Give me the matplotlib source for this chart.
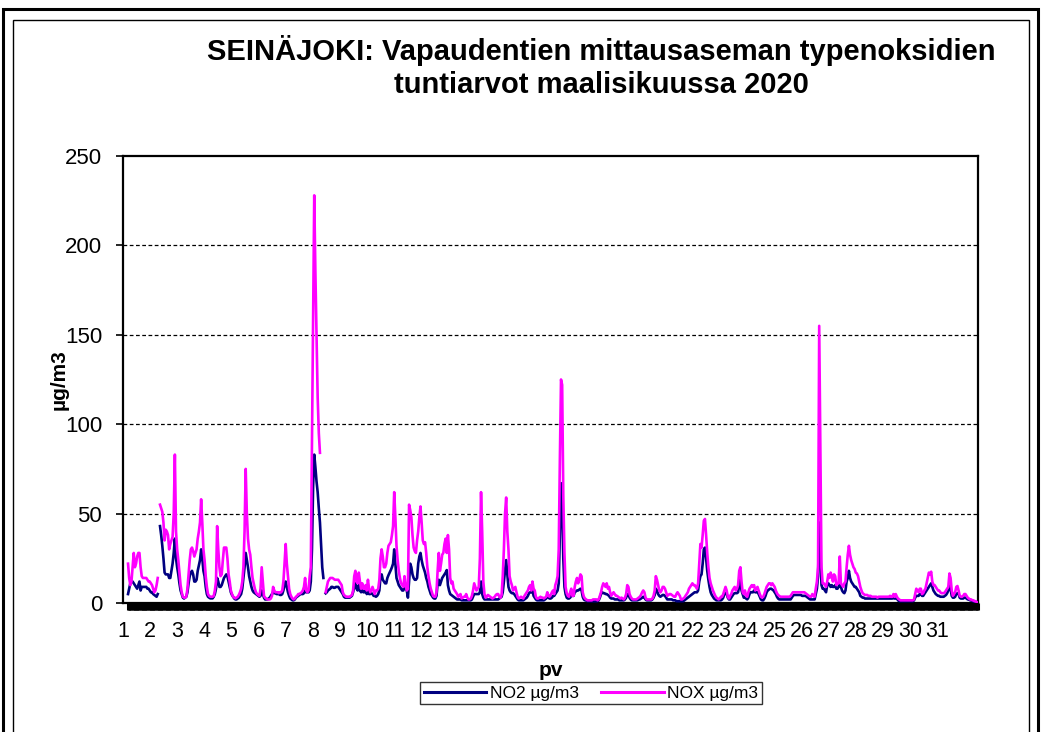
import numpy as np
import matplotlib
matplotlib.use("Agg")
import matplotlib.pyplot as plt
from matplotlib.patches import Rectangle
from matplotlib.lines import Line2D

nan = np.nan

# Hourly values for March 2020, one row of 24 hours per day
NO2_BY_DAY = [
    [5, 8, 11, 12, 12, 11, 10, 9, 8, 10, 12, 7, 9, 9, 9, 9, 9, 8, 8, 7, 6, 6, 5, 4.5],
    [4, 3.5, 5, nan, 43, 38, 32, 25, 17, 16, 16, 16, 14, 14, 18, 22, 28, 36, 25, 20, 16, 11, 7, 5],
    [3, 2.5, 3, 3.5, 6, 11, 15, 17, 18, 16, 12, 12, 13, 18, 21, 24, 30, 25, 18, 15, 9, 5, 3.5, 3],
    [2.6, 2.6, 2.6, 3.5, 5, 8, 14, 12, 9, 9, 10, 12, 14, 15, 16, 15, 12, 9, 6, 4.5, 3.5, 2.5, 2, 2],
    [2.5, 3, 4, 5, 8, 14, 20, 28, 24, 20, 15, 12, 9, 7, 6, 5.5, 5, 4.5, 4, 3.5, 4, 7, 5, 3],
    [2, 2, 2, 2.5, 3, 4, 5, 6, 5.5, 5.5, 5, 5, 5, 4.5, 4.5, 5, 7, 10, 12, 9, 6, 4, 2.5, 2],
    [1.5, 1.5, 2, 3, 3.5, 4, 4.5, 5, 5, 5, 5.5, 7, 6, 6, 6, 7, 12, 30, 65, 83, 76, 68, 62, 53],
    [45, 33, 20, 14, nan, 5.4, 6, 7, 7.5, 8, 9, 9, 8.5, 8.5, 9, 9, 9, 8, 7, 6, 5, 3.5, 3, 3],
    [3, 3, 3, 3.5, 4, 6, 9, 11, 8, 7, 10, 7, 6, 9, 6, 6, 7, 5, 8, 5, 5, 5.5, 5, 4],
    [4, 3.5, 4, 5, 7, 15, 16, 13, 12, 11, 11, 14, 15.6, 17, 18.4, 20, 22, 30, 22, 14, 12, 10, 9, 8],
    [7, 7, 9, 8, 7, 3, 12, 22, 20, 16, 14, 13, 13, 14, 22, 26, 28, 24, 21, 19, 17, 14, 12, 9],
    [7, 5, 4, 3, 2.5, 2.5, 4, 11, 13, 10, 12, 14, 15, 16, 17, 18.4, 10, 7, 5, 4.5, 4, 3.5, 3, 2.5],
    [2, 2, 2, 2, 1.5, 1.5, 1.5, 1.5, 1.5, 1.5, 1.5, 1.5, 1.5, 2, 3.5, 5, 5, 5, 5, 5, 6, 12, 5, 3],
    [2, 2, 2, 2, 2, 2, 2, 2, 2, 2, 2, 2, 2, 2.5, 3, 3.5, 6, 12, 18, 24, 16, 9, 7, 6],
    [5.5, 5.5, 5, 4, 3, 2, 1.5, 1.5, 1.5, 1.5, 1.5, 2, 2.5, 3, 4, 5.5, 6, 6, 7, 4, 3, 2, 1.5, 1.5],
    [1.5, 1.5, 1.5, 1.5, 1.5, 2, 2.5, 3.5, 3, 2.5, 2.5, 3, 4, 4, 5, 6, 7, 11, 40, 67, 55, 25, 9, 5],
    [3, 2.5, 2.5, 3, 4, 4, 4, 6, 6.5, 7, 7, 7.5, 8, 7, 3.5, 2, 1.5, 1.5, 1, 1, 1, 1, 1, 1],
    [1, 1, 1, 1, 1.5, 3, 5, 6, 5.5, 5.5, 5, 5, 4.5, 4, 3, 2.5, 2.5, 2.5, 2, 2, 2, 2, 1.5, 1.5],
    [1.5, 1.5, 1.5, 2, 3, 5, 5, 3, 2, 1.5, 1.5, 1.5, 1.5, 1.5, 1.5, 2, 2, 2.5, 3, 3.5, 3, 2, 1.5, 1.5],
    [1.5, 1.5, 1.5, 2, 3, 4.5, 8, 7, 5, 4, 3.5, 4, 4.5, 4.5, 4, 3, 2, 2, 2, 2, 2, 1.5, 1.5, 1.5],
    [1, 1, 1, 1, 1, 1, 1, 1.5, 2, 2.5, 3, 3.5, 4, 4.5, 5, 5.5, 6, 6, 6, 7, 12, 15, 16, 22],
    [30, 31, 25, 18, 13, 9, 6, 4.5, 3.5, 2.5, 2, 1.5, 1.5, 1.5, 1.5, 1.5, 2, 3, 5, 5.5, 5, 3, 2, 2],
    [3, 4, 5, 5.5, 5.5, 5.5, 6, 10, 13, 7, 5, 3, 3, 2.5, 2, 3, 5, 6, 6, 6, 7, 6, 6, 6],
    [5, 3.5, 2, 1.5, 1.5, 2.5, 4, 6, 7, 7.5, 8, 8, 7.5, 7, 6, 5, 3.5, 2.5, 2, 2, 2, 2, 2, 2],
    [2, 2, 2, 2, 2, 3, 4, 4.5, 4.5, 4.5, 4.5, 4.5, 4.5, 4.5, 4, 4, 4, 4, 3.5, 3, 2.5, 2, 2, 2],
    [2, 2, 5, 8, 15, 45, 30, 10, 8, 8, 7, 6, 10, 11, 10, 9, 10, 9, 9, 10, 8, 8, 9, 11],
    [9, 7, 6, 5.5, 7, 12, 14, 18, 14, 12, 11, 10, 9, 9, 8, 7, 6, 4, 3.5, 3, 3, 2.5, 2.5, 2.5],
    [2.5, 2.5, 2.5, 2.5, 2.5, 2.5, 2.5, 2.5, 2.5, 2.5, 2.5, 2.5, 2.5, 2.5, 2.5, 2.5, 2.5, 2.5, 2.5, 2.5, 2.5, 2.5, 3, 2.5],
    [2.5, 2.5, 1.5, 1, 1, 1, 1, 1, 1, 1, 1, 1, 1, 1, 1, 1, 1.5, 3, 4, 4, 4, 5, 5, 4],
    [4, 5, 6, 7, 8, 9, 10, 11, 9, 7, 6, 5, 4.5, 4, 4, 3.5, 3.5, 3.5, 3.5, 4, 4.5, 5.5, 7, 10],
    [8, 4, 3, 3, 3.5, 5, 5.5, 5, 3, 2.5, 2.5, 2.5, 3, 3, 2.5, 2, 2, 1.5, 1.5, 1, 1, 0.5, 0.5, 0.5],
]

NOX_BY_DAY = [
    [22, 14, 10, 12, 20, 28, 20, 22, 26, 28, 28, 20, 15, 14, 14, 14, 14, 13, 12, 12, 11, 10, 8, 6],
    [7, 10, 14, nan, 55, 53, 51, 45, 35, 41, 40, 38, 30, 33, 35, 37, 50, 83, 40, 30, 24, 17, 10, 6],
    [3.5, 3, 3, 3.5, 8, 16, 24, 30, 31, 29, 26, 28, 30, 36, 40, 45, 58, 45, 30, 24, 15, 9, 5, 4],
    [3.5, 3.5, 3.5, 4, 7, 12, 43, 30, 20, 15, 16, 24, 31, 31, 31, 25, 16, 12, 7, 5, 3.5, 3, 2.6, 3],
    [3.5, 4.5, 6, 8, 12, 20, 40, 75, 50, 36, 30, 27, 20, 14, 11, 8, 6, 5, 4.5, 4, 8, 20, 12, 4],
    [3, 2.5, 2, 2, 2, 2.5, 4, 9, 7, 6, 6, 6, 5.5, 6, 6, 7, 12, 22, 33, 22, 15, 8, 5, 3.5],
    [2.5, 2, 2.5, 3.5, 4, 5, 5, 5.5, 6, 7, 9, 14, 7, 6, 7, 15, 20, 90, 160, 228, 185, 150, 115, 95],
    [84, nan, nan, nan, nan, 6, 9, 12, 13, 14, 14, 14, 13.5, 13, 13, 13, 13, 12, 11, 10, 6, 4.5, 4, 3.5],
    [3.5, 3.5, 3.5, 4, 4.5, 7, 15, 18, 12, 11, 17, 12, 8, 11, 8, 8, 10, 7, 13, 8, 6, 7, 9, 7],
    [5, 7, 7, 8, 13, 25, 30, 26, 20, 20, 22, 28, 32, 33, 34, 38, 43, 62, 48, 32, 24, 18, 14, 11],
    [10, 9, 15, 10, 7, 8, 55, 52, 48, 38, 31, 29, 28, 35, 40, 48, 54, 45, 35, 33, 34, 28, 20, 15],
    [11, 8, 6, 4, 3.5, 3.5, 6, 18, 28, 18, 22, 27, 28, 33, 36, 28, 38, 30, 14, 11, 12, 8, 7, 6],
    [5, 3.5, 4, 5, 2.5, 3, 3.5, 3.5, 5, 3, 2, 2, 2.5, 4, 7, 11, 9, 7, 8, 9, 25, 62, 40, 12],
    [5, 3, 3.5, 4.5, 4, 3.5, 3, 2.5, 3, 3.5, 4.5, 5, 5, 3.5, 3, 4.5, 15, 30, 50, 59, 40, 30, 15, 12],
    [10, 7, 8, 9, 6, 3.5, 2.5, 3, 3.5, 3, 2.5, 4, 5, 6, 7, 9, 10, 7, 12, 8, 7, 3.5, 2.5, 2.5],
    [3, 3.5, 3, 3, 2.5, 3, 3.5, 6, 4, 3.5, 4.5, 6, 7, 5, 10, 12, 15, 30, 80, 125, 122, 60, 28, 9],
    [5.5, 4, 3.5, 6, 8, 4, 4, 9, 12, 14, 11, 13, 16, 15, 6, 3.5, 2.5, 2, 1.5, 1.5, 1.5, 1.5, 1.5, 2],
    [2, 2, 2, 1.5, 2, 4, 6, 9, 11, 10, 9, 11, 8, 9, 6, 4, 5, 6, 5, 4, 4, 3.5, 3, 2.5],
    [3, 2.5, 2, 3, 5, 10, 9, 5, 3.5, 2.5, 2, 2, 2, 2, 2.5, 3, 3.5, 4.5, 6, 7, 6, 3, 2, 2],
    [2, 2, 2, 2.5, 4, 7, 15, 13, 10, 7, 6, 7, 9, 9, 8, 6, 4, 4.5, 5, 5, 4.5, 4, 3.5, 3.5],
    [5, 6, 5, 4, 2, 2, 2.5, 3, 4, 5, 6, 8, 9, 10, 11, 10, 10, 9, 8, 11, 22, 33, 31, 38],
    [46, 47, 38, 28, 20, 14, 11, 9, 7, 5.5, 4, 3, 2.5, 2, 2.5, 3.5, 3.5, 5, 7, 9, 7, 3.5, 2.5, 4],
    [5, 7, 8, 9, 7, 8, 10, 18, 20, 12, 6, 5, 7, 4, 3.5, 6, 8, 9, 10, 9, 10, 7, 8, 9],
    [7, 5, 3.5, 3, 3.5, 5, 7, 9, 10, 11, 11, 10, 11, 10, 9, 7, 5.5, 4.5, 4, 3.5, 3.5, 3.5, 3.5, 3.5],
    [3.5, 3.5, 3.5, 3.5, 4, 5, 6, 6, 6, 6, 6, 6, 6, 6, 6, 6, 6, 5.5, 5, 4.5, 4, 3.5, 3.5, 5],
    [4, 3.5, 8, 12, 20, 155, 90, 20, 11, 11, 10, 9, 12, 16, 14, 17, 15, 12, 16, 15, 10, 11, 11, 26],
    [11, 10, 9, 11, 12, 20, 27, 32, 27, 24, 22, 20, 19, 17, 16.5, 15, 12, 9, 7, 5.5, 5, 4.5, 4.5, 4.5],
    [4, 4, 4, 3.5, 3.5, 3.5, 3.5, 3.5, 3, 3.5, 3.5, 3.5, 3.5, 3.5, 3.5, 3.5, 3.5, 3.5, 3.5, 4, 3.5, 3.5, 5, 3.5],
    [5, 3.5, 2.5, 2, 1.5, 1.5, 1.5, 1.5, 1.5, 1.5, 1.5, 1.5, 1.5, 1.5, 1.5, 1.5, 2, 5, 8, 7, 6, 8, 8, 5],
    [5.5, 7, 8, 11, 14, 17, 16, 17.5, 12, 10, 10, 9, 8, 7, 7, 6, 5.5, 5.5, 5.5, 6, 7, 8, 9, 16.5],
    [14, 7, 4, 5, 6, 9, 9.5, 7, 4, 3.5, 3.5, 4, 5, 5, 4, 3, 2.5, 2, 2, 1.5, 1.5, 1, 1, 0.5],
]

DAY_LABELS = [str(d) for d in range(1, 32)]
Y_TICKS = [0, 50, 100, 150, 200, 250]

for rows in (NO2_BY_DAY, NOX_BY_DAY):
    for i, row in enumerate(rows):
        assert len(row) == 24, (i + 1, len(row))

no2 = np.array([v for row in NO2_BY_DAY for v in row], dtype=float)
nox = np.array([v for row in NOX_BY_DAY for v in row], dtype=float)
hours = np.arange(len(no2))

NAVY = "#000080"
MAGENTA = "#FF00FF"

W, H = 1042, 732
fig = plt.figure(figsize=(W / 100, H / 100), dpi=100)
fig.patch.set_facecolor("white")
plt.rcParams["font.family"] = ["Liberation Sans", "DejaVu Sans"]

# double frame round the whole chart
fig.patches.append(Rectangle((3 / W, -0.1), 1035 / W, (H + 73 - 9) / H,
                             transform=fig.transFigure, fill=False,
                             edgecolor="black", linewidth=2.2))
fig.patches.append(Rectangle((13 / W, -0.1), 1016 / W, (H + 73 - 20) / H,
                             transform=fig.transFigure, fill=False,
                             edgecolor="black", linewidth=1.0))

ax = fig.add_axes([123 / W, 1 - 603 / H, 855 / W, 447 / H])

ax.plot(hours, no2, color=NAVY, linewidth=1.9, label="NO2 µg/m3", zorder=3)
ax.plot(hours, nox, color=MAGENTA, linewidth=1.9, label="NOX µg/m3", zorder=4)

ax.set_xlim(0, len(hours))
ax.set_ylim(0, 250)

ax.set_yticks(Y_TICKS)
ax.tick_params(axis="y", labelsize=16, length=5, width=1.2, direction="out", pad=10)
for y in Y_TICKS[1:-1]:
    ax.axhline(y, color="black", linestyle=(0, (3, 2)), linewidth=0.9, zorder=1)

# day labels every 24 hours, hourly tick marks form the black band
label_pos = [-4.4 + 23.76 * i for i in range(len(DAY_LABELS))]
ax.set_xticks(label_pos)
ax.set_xticklabels(DAY_LABELS, fontsize=15.5)
ax.tick_params(axis="x", which="major", length=0, pad=13)
ax.set_xticks(np.arange(len(hours) + 1), minor=True)
ax.tick_params(axis="x", which="minor", length=5, width=2.2, direction="out",
               color="black")

for side in ["left", "top", "right", "bottom"]:
    ax.spines[side].set_linewidth(1.6)
    ax.spines[side].set_color("black")

ax.set_ylabel("µg/m3", fontsize=15, fontweight="bold")
ax.yaxis.set_label_coords(-0.064, 0.5)
ax.set_xlabel("pv", fontsize=15, fontweight="bold", labelpad=14)

fig.text(601 / W, 1 - 50 / H, "SEINÄJOKI: Vapaudentien mittausaseman typenoksidien",
         ha="center", va="center", fontsize=21, fontweight="bold")
fig.text(601 / W, 1 - 85 / H, "tuntiarvot maalisikuussa 2020",
         ha="center", va="center", fontsize=21, fontweight="bold")

handles = [Line2D([], [], color=NAVY, linewidth=2.2),
           Line2D([], [], color=MAGENTA, linewidth=2.2)]
leg = fig.legend(handles, ["NO2 µg/m3", "NOX µg/m3"], loc="center",
                 bbox_to_anchor=(591 / W, 1 - 693 / H), ncol=2, fontsize=12.5,
                 frameon=True, fancybox=False, handlelength=3.6,
                 columnspacing=1.3, handletextpad=0.2, borderpad=0.2)
leg.get_frame().set_edgecolor("black")
leg.get_frame().set_linewidth(1.0)

fig.savefig("out.png", dpi=100)
